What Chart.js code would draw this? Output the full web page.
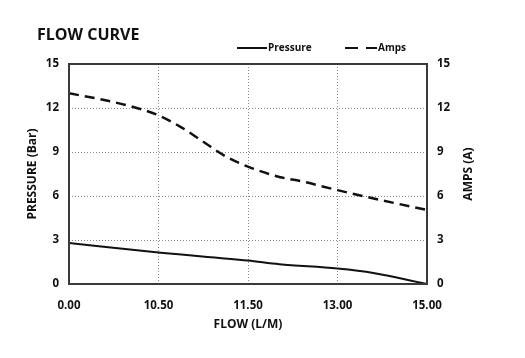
<!DOCTYPE html>
<html><head><meta charset="utf-8">
<script src="https://cdn.jsdelivr.net/npm/chart.js@4/dist/chart.umd.min.js"></script>
<style>html,body{margin:0;padding:0;background:#fff}#wrap{width:525px;height:358px}</style>
</head><body><div id="wrap"><canvas id="c" width="525" height="358"></canvas></div>
<script>
const flowLabels = ['0.00', '10.50', '11.50', '13.00', '15.00'];
const yTicks = [0, 3, 6, 9, 12, 15];
// positions along the flow axis (in category steps) and values
const pressurePos = [0, 1, 2, 2.35, 3, 3.4, 4];
const pressureVal = [2.8, 2.15, 1.6, 1.35, 1.05, 0.75, 0];
const ampsPos = [0, 0.35, 0.7, 1, 1.25, 1.5, 1.75, 2, 2.35, 2.6, 3, 3.5, 4];
const ampsVal = [13.0, 12.6, 12.1, 11.5, 10.7, 9.7, 8.7, 8.0, 7.3, 7.0, 6.4, 5.7, 5.05];
const rightTitle = 'AMPS (A)';

const FONT = "'Open Sans', 'DejaVu Sans', sans-serif";
const toPts = (xs, ys) => xs.map((x, i) => ({x, y: ys[i]}));

const frame = {
  id: 'frame',
  afterDatasetsDraw(chart) {
    const {ctx, chartArea: a} = chart;
    ctx.save();
    ctx.strokeStyle = '#3a3a3a';
    ctx.lineWidth = 2;
    ctx.strokeRect(a.left, a.top, a.right - a.left, a.bottom - a.top);
    ctx.restore();
  },
  afterDraw(chart) {
    const ctx = chart.ctx;
    const a = chart.chartArea;
    ctx.save();
    ctx.fillStyle = '#111';
    ctx.font = "bold 16px " + FONT;
    ctx.textBaseline = 'middle';
    ctx.textAlign = 'left';
    ctx.fillText('FLOW CURVE', 37, 35);
    // legend
    const ly = 48;
    ctx.strokeStyle = '#111';
    ctx.lineWidth = 2;
    ctx.beginPath(); ctx.moveTo(237, ly); ctx.lineTo(267, ly); ctx.stroke();
    ctx.setLineDash([13, 8]);
    ctx.beginPath(); ctx.moveTo(345, ly); ctx.lineTo(377, ly); ctx.stroke();
    ctx.setLineDash([]);
    ctx.font = "bold 10px " + FONT;
    ctx.fillText(chart.data.datasets[0].label, 268, ly);
    ctx.fillText(chart.data.datasets[1].label, 378, ly);
    // right axis title, reading bottom to top
    ctx.font = "bold 12px " + FONT;
    ctx.textAlign = 'center';
    ctx.translate(469, (a.top + a.bottom) / 2);
    ctx.rotate(-Math.PI / 2);
    ctx.fillText(rightTitle, 0, 0);
    ctx.restore();
  }
};

const gridCol = '#8a8a8a';
const tickFont = {family: FONT, size: 11.5, weight: 'bold'};
const titleFont = {family: FONT, size: 12, weight: 'bold'};
new Chart(document.getElementById('c'), {
  type: 'line',
  data: {
    datasets: [
      {label: 'Pressure', data: toPts(pressurePos, pressureVal), yAxisID: 'y', borderColor: '#111', borderWidth: 2, pointRadius: 0, tension: 0.4, cubicInterpolationMode: 'monotone', fill: false},
      {label: 'Amps', data: toPts(ampsPos, ampsVal), yAxisID: 'y1', borderColor: '#111', borderWidth: 2.5, borderDash: [10, 6], pointRadius: 0, tension: 0.4, cubicInterpolationMode: 'monotone', fill: false}
    ]
  },
  options: {
    responsive: false,
    animation: false,
    layout: {padding: {top: 64, left: 0, right: 0, bottom: 0}},
    plugins: {legend: {display: false}, title: {display: false}, tooltip: {enabled: false}},
    scales: {
      x: {
        type: 'linear', min: 0, max: flowLabels.length - 1,
        afterFit(s) { s.height = 358 - 284; },
        afterBuildTicks(s) { s.ticks = flowLabels.map((_, i) => ({value: i})); },
        ticks: {callback: v => flowLabels[v], padding: 15, color: '#111', font: tickFont, maxRotation: 0},
        grid: {color: gridCol, lineWidth: 1, drawTicks: false},
        border: {display: false, dash: [1, 2]},
        title: {display: true, text: 'FLOW (L/M)', color: '#111', font: titleFont, padding: {top: 0, bottom: 26}}
      },
      y: {
        position: 'left', min: 0, max: 15,
        afterFit(s) { s.width = 69; },
        afterBuildTicks(s) { s.ticks = yTicks.map(v => ({value: v})); },
        ticks: {padding: 10, color: '#111', font: tickFont},
        grid: {color: gridCol, lineWidth: 1, drawTicks: false},
        border: {display: false, dash: [1, 2]},
        title: {display: true, text: 'PRESSURE (Bar)', color: '#111', font: titleFont, padding: {top: 25, bottom: 0}}
      },
      y1: {
        position: 'right', min: 0, max: 15,
        afterFit(s) { s.width = 525 - 427; },
        afterBuildTicks(s) { s.ticks = yTicks.map(v => ({value: v})); },
        ticks: {padding: 10, color: '#111', font: tickFont},
        grid: {display: false, drawTicks: false},
        border: {display: false},
        title: {display: false}
      }
    }
  },
  plugins: [frame]
});
</script></body></html>
